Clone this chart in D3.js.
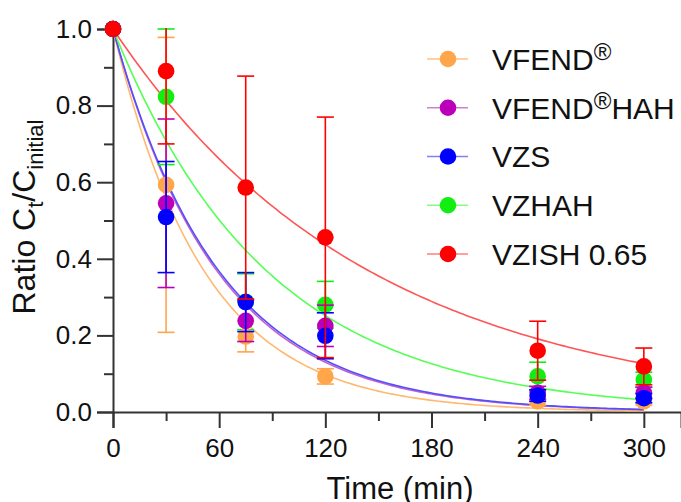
<!DOCTYPE html>
<html><head><meta charset="utf-8">
<script src="https://cdn.jsdelivr.net/npm/d3@7"></script>
<style>body{margin:0;background:#fff;} text{font-family:"Liberation Sans",Arial,sans-serif;fill:#111;}</style>
</head><body><svg id="c" width="681" height="502"></svg>
<script>
const times = [0, 30, 75, 120, 240, 300];
const seriesNames = ["VFEND", "VFEND HAH", "VZS", "VZHAH", "VZISH 0.65"];
const vfend = [1, 0.593, 0.197, 0.093, 0.028, 0.028];
const vfendErr = [0, 0.385, 0.040, 0.020, 0.010, 0.010];
const vfendHah = [1, 0.545, 0.238, 0.225, 0.050, 0.050];
const vfendHahErr = [0, 0.220, 0.054, 0.054, 0.017, 0.015];
const vzs = [1, 0.509, 0.287, 0.199, 0.043, 0.036];
const vzsErr = [0, 0.145, 0.077, 0.060, 0.015, 0.012];
const vzhah = [1, 0.823, 0.288, 0.280, 0.093, 0.084];
const vzhahErr = [0, 0.177, 0.073, 0.061, 0.037, 0.020];
const vzish = [1, 0.890, 0.586, 0.456, 0.160, 0.119];
const vzishErr = [0, 0.190, 0.291, 0.314, 0.077, 0.048];
const fitK = [0.0194, 0.0170, 0.0167, 0.0115, 0.0069];
const xTicks = [0, 60, 120, 180, 240, 300];
const xMinor = [30, 90, 150, 210, 270];
const yTicks = [0, 0.2, 0.4, 0.6, 0.8, 1.0];
const yMinor = [0.1, 0.3, 0.5, 0.7, 0.9];

const markerColors = ["#FFA54A", "#BB00BB", "#0000FF", "#11EE11", "#FF0000"];
const lineColors = ["#FFB870", "#C860C8", "#5050FF", "#55FF55", "#FF5555"];
const legendLineColors = ["#FFC080", "#D080D0", "#8080FF", "#80FF80", "#FF8080"];

const values = [vfend, vfendHah, vzs, vzhah, vzish];
const errs = [vfendErr, vfendHahErr, vzsErr, vzhahErr, vzishErr];
const series = seriesNames.map((n, i) => ({
  name: n, idx: i, k: fitK[i],
  pts: times.map((t, j) => ({t, v: values[i][j], e: errs[i][j]}))
}));

const svg = d3.select("#c");
const x = d3.scaleLinear().domain([0, 321]).range([113, 681]);
const y = d3.scaleLinear().domain([0, 1]).range([412, 29]);
const axisColor = "#333";

// clip for error bars
svg.append("defs").append("clipPath").attr("id", "clip")
  .append("rect").attr("x", 0).attr("y", y(1) - 1).attr("width", 681).attr("height", y(0) - y(1) + 40);

// axes
const gx = svg.append("g").attr("transform", `translate(0,${y(0)})`);
gx.call(d3.axisBottom(x).tickValues(xTicks).tickSize(16).tickPadding(11).tickFormat(d3.format("d")));
gx.append("g").call(d3.axisBottom(x).tickValues(xMinor).tickSize(9).tickFormat(""));
const gy = svg.append("g").attr("transform", `translate(${x(0)},0)`);
gy.call(d3.axisLeft(y).tickValues(yTicks).tickSize(16).tickPadding(5).tickFormat(d3.format(".1f")));
gy.append("g").call(d3.axisLeft(y).tickValues(yMinor).tickSize(9).tickFormat(""));
svg.selectAll(".domain").attr("stroke", axisColor).attr("stroke-width", 2);
svg.selectAll(".tick line").attr("stroke", axisColor).attr("stroke-width", 2);
svg.selectAll(".tick text").attr("font-size", 26).attr("font-family", "Liberation Sans, Arial, sans-serif").attr("fill", "#111");
gy.selectAll("g g .domain").remove();
gx.selectAll("g g .domain").remove();

// axis titles
svg.append("text").attr("x", 400).attr("y", 499).attr("text-anchor", "middle")
  .attr("font-size", 31).text("Time (min)");
const yt = svg.append("text").attr("transform", "translate(35,217) rotate(-90)")
  .attr("text-anchor", "middle").attr("font-size", 32);
yt.append("tspan").text("Ratio C");
yt.append("tspan").attr("font-size", 22).attr("dy", 8).text("t");
yt.append("tspan").attr("dy", -8).text("/C");
yt.append("tspan").attr("font-size", 22).attr("dy", 8).text("initial");

// fitted curves
const tGrid = d3.range(0, 300.001, 2);
const line = d3.line().x(d => x(d[0])).y(d => y(d[1]));
series.forEach(s => {
  svg.append("path").attr("d", line(tGrid.map(t => [t, Math.exp(-s.k * t)])))
    .attr("fill", "none").attr("stroke", lineColors[s.idx]).attr("stroke-width", 1.6);
});

// points with error bars (draw order)
const drawOrder = [3, 0, 1, 2, 4];
drawOrder.forEach(i => {
  const s = series[i];
  const g = svg.append("g");
  const eg = g.append("g").attr("clip-path", "url(#clip)")
    .attr("stroke", markerColors[i]).attr("stroke-width", 1.6);
  s.pts.filter(p => p.e > 0).forEach(p => {
    eg.append("line").attr("x1", x(p.t)).attr("x2", x(p.t)).attr("y1", y(p.v - p.e)).attr("y2", y(p.v + p.e));
    [p.v - p.e, p.v + p.e].forEach(v => {
      eg.append("line").attr("x1", x(p.t) - 8.5).attr("x2", x(p.t) + 8.5).attr("y1", y(v)).attr("y2", y(v));
    });
  });
  g.selectAll("circle").data(s.pts).join("circle")
    .attr("cx", p => x(p.t)).attr("cy", p => y(p.v)).attr("r", 8.3).attr("fill", markerColors[i]);
});

// legend
const legRowY = d3.scalePoint().domain(seriesNames).range([59, 254]);
const leg = svg.append("g");
series.forEach(s => {
  const ry = legRowY(s.name);
  leg.append("line").attr("x1", 427).attr("x2", 468).attr("y1", ry).attr("y2", ry)
    .attr("stroke", legendLineColors[s.idx]).attr("stroke-width", 1.6);
  leg.append("circle").attr("cx", 448).attr("cy", ry).attr("r", 8.3).attr("fill", markerColors[s.idx]);
  const t = leg.append("text").attr("x", 492).attr("y", ry).attr("dy", "0.36em").attr("font-size", 30);
  if (s.name.startsWith("VFEND")) {
    t.append("tspan").text("VFEND");
    t.append("tspan").attr("font-size", 24).attr("dy", -9.5).text("®");
    if (s.name === "VFEND HAH") t.append("tspan").attr("dy", 9.5).text("HAH");
  } else {
    t.text(s.name);
  }
});
</script></body></html>
